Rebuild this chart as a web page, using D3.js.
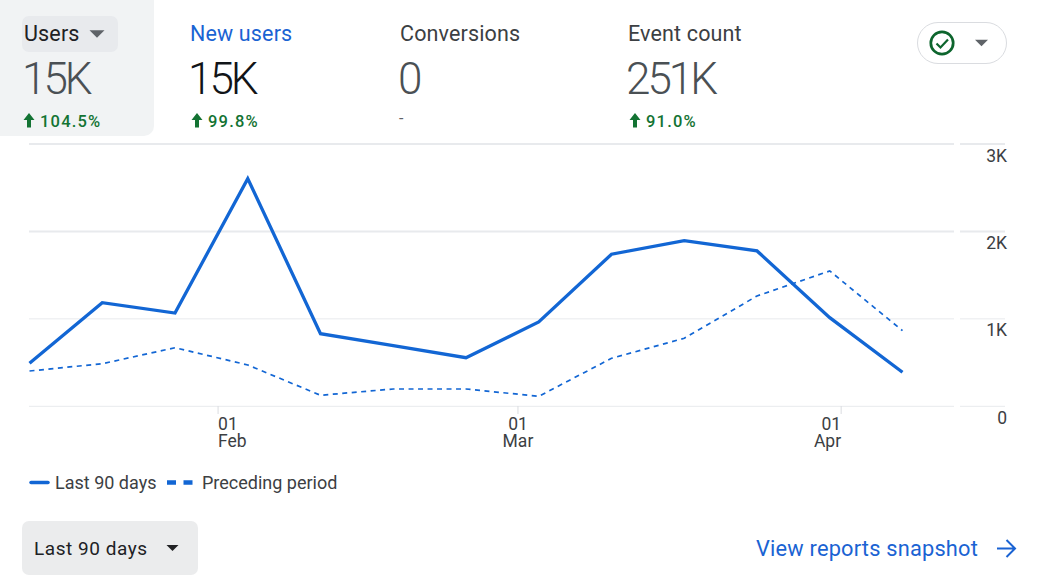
<!DOCTYPE html>
<html><head><meta charset="utf-8">
<script src="https://cdn.jsdelivr.net/npm/d3@7/dist/d3.min.js"></script>
<style>html,body{margin:0;padding:0;background:#fff;overflow:hidden}svg{display:block}text{font-family:Roboto,sans-serif}</style>
</head><body><svg id="c" width="1039" height="578"></svg>
<script>
const weekDates = ["2024-01-14","2024-01-21","2024-01-28","2024-02-04","2024-02-11","2024-02-18","2024-02-25","2024-03-03","2024-03-10","2024-03-17","2024-03-24","2024-03-31","2024-04-07"];
const last90 = [492,1185,1067,2604,830,693,556,965,1739,1895,1777,1014,389];
const preceding = [404,487,670,473,126,198,198,114,549,778,1262,1548,865];
const yTicks = [0,1000,2000,3000];
const yLabels = ["0","1K","2K","3K"];
const xTickDates = ["2024-02-01","2024-03-01","2024-04-01"];
const xTickDays = ["01","01","01"];
const xTickMonths = ["Feb","Mar","Apr"];
const metricNames = ["Users","New users","Conversions","Event count"];
const metricValues = ["15K","15K","0","251K"];
const metricChanges = ["104.5%","99.8%","-","91.0%"];
const seriesNames = ["Last 90 days","Preceding period"];

const svg = d3.select("#c");
const parse = d3.utcParse("%Y-%m-%d");
const x = d3.scaleUtc().domain([parse(weekDates[0]),parse(weekDates[12])]).range([29.5,902.5]);
const y = d3.scaleLinear().domain([0,3000]).range([406.3,144]);
const BLUE="#1266d4", GRID="#e8eaed", GREY="#4a5054";

// metric panel
svg.append("path").attr("d","M0 0H154V126a10 10 0 0 1-10 10H0Z").attr("fill","#f1f3f4");
svg.append("rect").attr("x",22).attr("y",16).attr("width",96).attr("height",36).attr("rx",7).attr("fill","#e8eaed");
const tri=(cx,cy,w,h,fill)=>svg.append("path").attr("d",`M${cx-w/2} ${cy-h/2}H${cx+w/2}L${cx} ${cy+h/2}Z`).attr("fill",fill);
tri(97,34,15,7.5,"#5f6368");

const mx=[24,190,400,628], nameCol=["#202124","#1a63d3","#3c4043","#3c4043"], valCol=[GREY,"#111418",GREY,GREY];
const arrowX=[29,197,null,635];
metricNames.forEach((n,i)=>{
  svg.append("text").attr("x",mx[i]).attr("y",41).attr("font-size",21.5).attr("letter-spacing",0.15).attr("fill",nameCol[i]).text(n);
  svg.append("text").attr("x",mx[i]-2).attr("y",94).attr("font-size",44).attr("font-weight",300).attr("letter-spacing",-3).attr("fill",valCol[i]).text(metricValues[i]);
  if(arrowX[i]!==null){
    const ax=arrowX[i];
    svg.append("path").attr("d",`M${ax} 113L${ax+5.5} 120H${ax+2}V127.5H${ax-2}V120H${ax-5.5}Z`).attr("fill","#137333");
    svg.append("text").attr("x",ax+11).attr("y",127).attr("font-size",16.5).attr("font-weight",500).attr("letter-spacing",1.2).attr("fill","#137333").text(metricChanges[i]);
  } else {
    svg.append("text").attr("x",mx[i]-1).attr("y",124).attr("font-size",16).attr("fill","#5f6368").text(metricChanges[i]);
  }
});

// status pill
svg.append("rect").attr("x",917.5).attr("y",22.5).attr("width",89).attr("height",41).attr("rx",20.5).attr("fill","#fff").attr("stroke","#dadce0");
svg.append("circle").attr("cx",942).attr("cy",43).attr("r",11.2).attr("fill","none").attr("stroke","#0d652d").attr("stroke-width",2.7);
svg.append("path").attr("d","M936.5 43.5L940.5 47.5L948 39.5").attr("fill","none").attr("stroke","#0d652d").attr("stroke-width",2.2);
tri(981.5,43,13,6.5,"#5f6368");

// grid
yTicks.forEach(t=>{
  const w=t>=2000?2:1;
  [[29,954],[960,1005]].forEach(([a,b])=>{
    svg.append("line").attr("x1",a).attr("x2",b).attr("y1",y(t)).attr("y2",y(t)).attr("stroke",GRID).attr("stroke-width",w);
  });
});
yLabels.forEach((l,i)=>{
  svg.append("text").attr("x",1007).attr("y",y(yTicks[i])+17.5).attr("text-anchor","end").attr("font-size",17.5).attr("fill","#3c4043").text(l);
});

// x ticks
const anchors=["start","middle","end"], nudges=[1.5,0,1];
xTickDates.forEach((d,i)=>{
  const px=x(parse(d))+nudges[i];
  svg.append("line").attr("x1",px).attr("x2",px).attr("y1",406).attr("y2",414).attr("stroke","#dadce0");
  const t=svg.append("text").attr("text-anchor",anchors[i]).attr("font-size",17.5).attr("fill","#3c4043");
  t.append("tspan").attr("x",px).attr("y",430).text(xTickDays[i]);
  t.append("tspan").attr("x",px).attr("y",447).text(xTickMonths[i]);
});

// lines
const line=d3.line().x((d,i)=>x(parse(weekDates[i]))).y(d=>y(d));
svg.append("path").datum(preceding).attr("d",line).attr("fill","none").attr("stroke",BLUE).attr("stroke-width",1.7).attr("stroke-dasharray","5 4.5");
svg.append("path").datum(last90).attr("d",line).attr("fill","none").attr("stroke",BLUE).attr("stroke-width",3.3).attr("stroke-linejoin","miter");

// legend
svg.append("line").attr("x1",31).attr("x2",48).attr("y1",482.5).attr("y2",482.5).attr("stroke",BLUE).attr("stroke-width",3.5).attr("stroke-linecap","round");
svg.append("text").attr("x",55).attr("y",489).attr("font-size",18).attr("fill","#3c4043").text(seriesNames[0]);
svg.append("line").attr("x1",167).attr("x2",193).attr("y1",482.5).attr("y2",482.5).attr("stroke",BLUE).attr("stroke-width",4.5).attr("stroke-dasharray","9 7.5");
svg.append("text").attr("x",202).attr("y",489).attr("font-size",18).attr("fill","#3c4043").text(seriesNames[1]);

// footer
svg.append("rect").attr("x",22).attr("y",521).attr("width",176).attr("height",54).attr("rx",7).attr("fill","#ebeced");
svg.append("text").attr("x",34).attr("y",555).attr("font-size",19).attr("letter-spacing",0.55).attr("fill","#202124").text(seriesNames[0]);
tri(172.5,548,12,6,"#202124");
svg.append("text").attr("x",756).attr("y",556).attr("font-size",21.8).attr("letter-spacing",0.2).attr("fill","#1a63d3").text("View reports snapshot");
svg.append("path").attr("d","M997 548.5H1014M1006.5 540L1015 548.5L1006.5 557").attr("fill","none").attr("stroke","#1a63d3").attr("stroke-width",2);
</script></body></html>
